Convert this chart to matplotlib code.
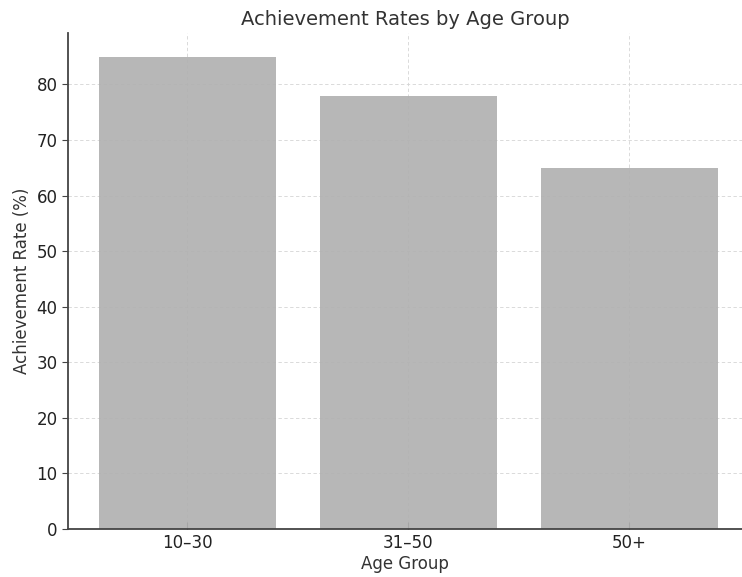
import matplotlib
matplotlib.use('Agg')
import matplotlib.pyplot as plt

age_groups = ['10\u201330', '31\u201350', '50+']
rates = [85, 78, 65]

fig = plt.figure(figsize=(7.42, 5.77), dpi=100)
ax = fig.add_axes([0.0916, 0.0832, 0.9084, 0.8596])

ax.grid(True, linestyle=(0, (4, 3)), color='#d4d4d4', linewidth=0.6, zorder=0)
ax.bar(age_groups, rates, width=0.8, color='#b0b0b0', alpha=0.9, zorder=2)

ax.set_xlim(-0.54, 2.51)
ax.set_ylim(0, 89.25)
ax.set_yticks(range(0, 81, 10))

for s in ['top', 'right']:
    ax.spines[s].set_visible(False)
for s in ['left', 'bottom']:
    ax.spines[s].set_color('#444444')
    ax.spines[s].set_linewidth(1.3)

ax.tick_params(axis='x', direction='in', length=5, color='#444444', labelsize=12, labelcolor='#222222')
ax.tick_params(axis='y', direction='out', length=4, color='#444444', labelsize=12, labelcolor='#222222')

ax.set_title('Achievement Rates by Age Group', fontsize=14, color='#333333', pad=6)
ax.set_xlabel('Age Group', fontsize=12, color='#333333', labelpad=2)
ax.set_ylabel('Achievement Rate (%)', fontsize=12, color='#333333')

fig.savefig('out.png', dpi=100)
